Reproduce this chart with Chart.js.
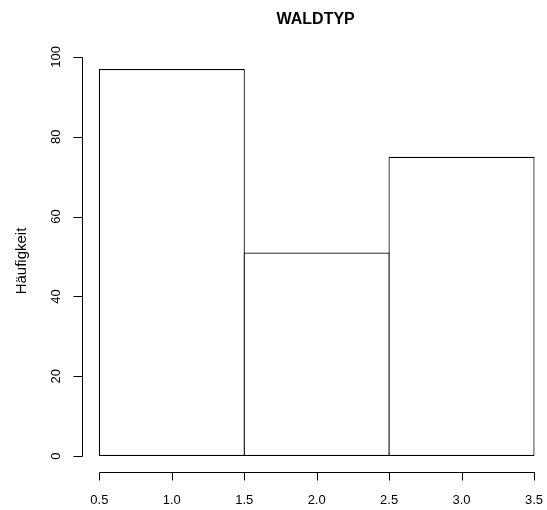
<!DOCTYPE html>
<html><head><meta charset="utf-8">
<script src="https://cdn.jsdelivr.net/npm/chart.js@4"></script>
<style>html,body{margin:0;padding:0;background:#fff}#wrap{width:547px;height:510px}</style>
</head><body><div id="wrap"><canvas id="c" width="547" height="510"></canvas></div>
<script>
const chartTitle = 'WALDTYP';
const yAxisLabel = 'Häufigkeit';
const binCenters = [1, 2, 3];
const counts = [97, 51, 75];
const xTickValues = [0.5, 1.0, 1.5, 2.0, 2.5, 3.0, 3.5];
const xTickLabels = ['0.5', '1.0', '1.5', '2.0', '2.5', '3.0', '3.5'];
const yTickValues = [0, 20, 40, 60, 80, 100];
const yTickLabels = ['0', '20', '40', '60', '80', '100'];

const FONT = '"Liberation Sans", Arial, Helvetica, sans-serif';

const rAxes = {
  id: 'rAxes',
  afterDraw(chart) {
    const ctx = chart.ctx, xs = chart.scales.x, ys = chart.scales.y, ca = chart.chartArea;
    ctx.save();
    ctx.strokeStyle = '#000';
    ctx.fillStyle = '#000';
    ctx.lineWidth = 1;
    // y axis
    const ax = Math.round(ca.left) + 0.5;
    ctx.beginPath();
    ctx.moveTo(ax, Math.round(ys.getPixelForValue(yTickValues[0])) + 0.5);
    ctx.lineTo(ax, Math.round(ys.getPixelForValue(yTickValues[yTickValues.length - 1])) + 0.5);
    yTickValues.forEach(v => {
      const py = Math.round(ys.getPixelForValue(v)) + 0.5;
      ctx.moveTo(ax, py); ctx.lineTo(ax - 9, py);
    });
    ctx.stroke();
    ctx.font = '13px ' + FONT;
    ctx.textAlign = 'center';
    ctx.textBaseline = 'middle';
    yTickValues.forEach((v, i) => {
      const py = ys.getPixelForValue(v);
      ctx.save();
      ctx.translate(56, py);
      ctx.rotate(-Math.PI / 2);
      ctx.fillText(yTickLabels[i], 0, 0);
      ctx.restore();
    });
    // x axis
    const ay = Math.round(ca.bottom) + 0.5;
    ctx.beginPath();
    ctx.moveTo(Math.round(xs.getPixelForValue(xTickValues[0])) + 0.5, ay);
    ctx.lineTo(Math.round(xs.getPixelForValue(xTickValues[xTickValues.length - 1])) + 0.5, ay);
    xTickValues.forEach(v => {
      const px = Math.round(xs.getPixelForValue(v)) + 0.5;
      ctx.moveTo(px, ay); ctx.lineTo(px, ay + 8);
    });
    ctx.stroke();
    xTickValues.forEach((v, i) => {
      ctx.fillText(xTickLabels[i], xs.getPixelForValue(v), 500);
    });
    // y label
    ctx.save();
    ctx.font = '15px ' + FONT;
    ctx.translate(22, 261);
    ctx.rotate(-Math.PI / 2);
    ctx.fillText(yAxisLabel, 0, 0);
    ctx.restore();
    // title
    ctx.font = 'bold 16px ' + FONT;
    ctx.fillText(chartTitle, xs.getPixelForValue(2) - 1, 20);
    ctx.restore();
  }
};

new Chart(document.getElementById('c'), {
  type: 'bar',
  data: {
    datasets: [{
      data: binCenters.map((x, i) => ({ x: x, y: counts[i] })),
      backgroundColor: '#ffffff',
      borderColor: '#000000',
      borderWidth: 1.2,
      borderSkipped: false,
      barPercentage: 1.008,
      categoryPercentage: 1
    }]
  },
  options: {
    responsive: false,
    animation: false,
    devicePixelRatio: 1,
    layout: { padding: { left: 82, right: 0, top: 41, bottom: 38 } },
    scales: {
      x: {
        type: 'linear', min: 0.38, max: 3.59, offset: false, display: false,
        afterBuildTicks: s => { s.ticks = binCenters.map(v => ({ value: v })); }
      },
      y: { type: 'linear', min: -4, max: 104, display: false }
    },
    plugins: { legend: { display: false }, tooltip: { enabled: false }, title: { display: false } }
  },
  plugins: [rAxes]
});
</script>
</body></html>
